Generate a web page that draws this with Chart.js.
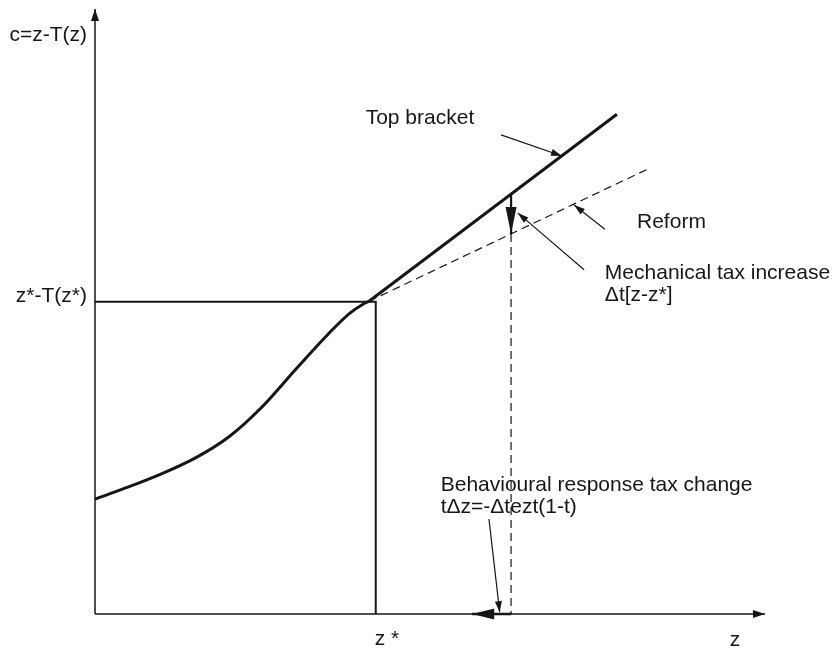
<!DOCTYPE html>
<html>
<head>
<meta charset="utf-8">
<script src="https://cdn.jsdelivr.net/npm/chart.js@4.4.1/dist/chart.umd.min.js"></script>
<style>
  html, body { margin: 0; padding: 0; background: #ffffff; }
  #wrap { width: 836px; height: 648px; position: relative; }
</style>
</head>
<body>
<div id="wrap"><canvas id="c" width="836" height="648"></canvas></div>
<script>
// Income z on the horizontal axis, consumption c = z - T(z) on the vertical axis.
const curveZ = [0, 0.5, 1.0, 1.5, 2.0, 2.5, 3.0, 3.5, 3.8, 4.0, 4.09];
const curveC = [1.90, 2.10, 2.32, 2.58, 2.93, 3.43, 4.05, 4.65, 4.97, 5.12, 5.17];

const zStar = 4.19;          // top bracket threshold
const cStar = 5.16;          // z* - T(z*)

const bracketZ = [4.09, 7.79];   // budget line in the top bracket
const bracketC = [5.17, 8.26];
const reformZ = [4.09, 8.28];    // budget line after the reform
const reformC = [5.17, 7.37];

const zOld = 6.21;               // income before behavioural response
const zNew = 5.63;               // income after behavioural response
const cOld = 6.94;               // consumption on the old budget line at zOld
const cMech = 6.28;              // consumption on the reform line at zOld

// pointer arrows: [tailZ, tailC, tipZ, tipC]
const pointerTop = [6.06, 7.92, 6.97, 7.57];
const pointerReform = [7.61, 6.36, 7.15, 6.76];
const pointerMech = [7.30, 5.69, 6.31, 6.63];
const pointerBehav = [5.88, 1.57, 6.04, 0.03];

const axisMaxZ = 10;
const axisMaxC = 10;

const INK = '#161616';
const FONT = '21px "Liberation Sans", Arial, sans-serif';

function seg(zs, cs) { return zs.map((z, i) => ({ x: z, y: cs[i] })); }
function pair(a) { return [{ x: a[0], y: a[1] }, { x: a[2], y: a[3] }]; }

const base = { showLine: true, pointRadius: 0, borderColor: INK, backgroundColor: INK, clip: false, fill: false };

const datasets = [
  Object.assign({}, base, { label: 'c-axis', data: [{ x: 0, y: 0 }, { x: 0, y: axisMaxC }], borderWidth: 1.5 }),
  Object.assign({}, base, { label: 'z-axis', data: [{ x: 0, y: 0 }, { x: axisMaxZ, y: 0 }], borderWidth: 1.5 }),
  Object.assign({}, base, { label: 'level', data: [{ x: 0, y: cStar }, { x: zStar, y: cStar }, { x: zStar, y: 0 }], borderWidth: 2 }),
  Object.assign({}, base, { label: 'curve', data: seg(curveZ, curveC), borderWidth: 3, cubicInterpolationMode: 'monotone' }),
  Object.assign({}, base, { label: 'bracket', data: seg(bracketZ, bracketC), borderWidth: 3 }),
  Object.assign({}, base, { label: 'reform', data: seg(reformZ, reformC), borderWidth: 1.2, borderDash: [8, 5] }),
  Object.assign({}, base, { label: 'drop', data: [{ x: zOld, y: cMech }, { x: zOld, y: 0 }], borderWidth: 1.2, borderDash: [8, 5] }),
  Object.assign({}, base, { label: 'mech', data: [{ x: zOld, y: cOld }, { x: zOld, y: cMech }], borderWidth: 2.2 }),
  Object.assign({}, base, { label: 'behav', data: [{ x: zOld, y: 0 }, { x: zNew, y: 0 }], borderWidth: 2.5 }),
  Object.assign({}, base, { label: 'pTop', data: pair(pointerTop), borderWidth: 1.2 }),
  Object.assign({}, base, { label: 'pReform', data: pair(pointerReform), borderWidth: 1.2 }),
  Object.assign({}, base, { label: 'pMech', data: pair(pointerMech), borderWidth: 1.2 }),
  Object.assign({}, base, { label: 'pBehav', data: pair(pointerBehav), borderWidth: 1.2 })
];

// arrowhead sizes per dataset: [length, half width]
const heads = {
  'c-axis': [12, 4], 'z-axis': [12, 4],
  'mech': [27, 5.5], 'behav': [22, 5.5],
  'pTop': [11, 3.5], 'pReform': [11, 3.5], 'pMech': [11, 3.5], 'pBehav': [11, 3.5]
};

const labels = [
  { text: 'Top bracket', z: 4.04, c: 8.20, align: 'left' },
  { text: 'Reform', z: 8.09, c: 6.48, align: 'left' },
  { text: 'Mechanical tax increase', z: 7.61, c: 5.64, align: 'left' },
  { text: 'Δt[z-z*]', z: 7.61, c: 5.27, align: 'left' },
  { text: 'Behavioural response tax change', z: 5.16, c: 2.13, align: 'left' },
  { text: 'tΔz=-Δtezt(1-t)', z: 5.16, c: 1.77, align: 'left' }
];

const annotate = {
  id: 'annotate',
  afterDatasetsDraw(chart) {
    const ctx = chart.ctx;
    const sx = chart.scales.x, sy = chart.scales.y;
    ctx.save();
    ctx.fillStyle = INK;
    chart.data.datasets.forEach((ds) => {
      const h = heads[ds.label];
      if (!h) return;
      const n = ds.data.length;
      const p1 = ds.data[n - 2], p2 = ds.data[n - 1];
      const x1 = sx.getPixelForValue(p1.x), y1 = sy.getPixelForValue(p1.y);
      const x2 = sx.getPixelForValue(p2.x), y2 = sy.getPixelForValue(p2.y);
      const a = Math.atan2(y2 - y1, x2 - x1);
      const [len, hw] = h;
      const bx = x2 - len * Math.cos(a), by = y2 - len * Math.sin(a);
      ctx.beginPath();
      ctx.moveTo(x2, y2);
      ctx.lineTo(bx + hw * Math.sin(a), by - hw * Math.cos(a));
      ctx.lineTo(bx - hw * Math.sin(a), by + hw * Math.cos(a));
      ctx.closePath();
      ctx.fill();
    });

    ctx.font = FONT;
    ctx.textBaseline = 'middle';
    labels.forEach((l) => {
      ctx.textAlign = l.align;
      ctx.fillText(l.text, sx.getPixelForValue(l.z), sy.getPixelForValue(l.c));
    });

    // axis titles and the marked values
    const x0 = sx.getPixelForValue(0), y0 = sy.getPixelForValue(0);
    ctx.textAlign = 'right';
    ctx.fillText('c=z-T(z)', x0 - 8, sy.getPixelForValue(axisMaxC) + 26);
    ctx.fillText('z*-T(z*)', x0 - 8, sy.getPixelForValue(cStar) - 6);
    ctx.textAlign = 'left';
    ctx.fillText('z *', sx.getPixelForValue(zStar) - 1, y0 + 25);
    ctx.textAlign = 'center';
    ctx.fillText('z', sx.getPixelForValue(axisMaxZ) - 30, y0 + 26);
    ctx.restore();
  }
};

new Chart(document.getElementById('c'), {
  type: 'scatter',
  data: { datasets },
  options: {
    responsive: false,
    animation: false,
    events: [],
    layout: { padding: { left: 95, right: 71, top: 9, bottom: 34 } },
    plugins: { legend: { display: false }, tooltip: { enabled: false } },
    scales: {
      x: { type: 'linear', min: 0, max: axisMaxZ, display: false },
      y: { type: 'linear', min: 0, max: axisMaxC, display: false }
    }
  },
  plugins: [annotate]
});
</script>
</body>
</html>
